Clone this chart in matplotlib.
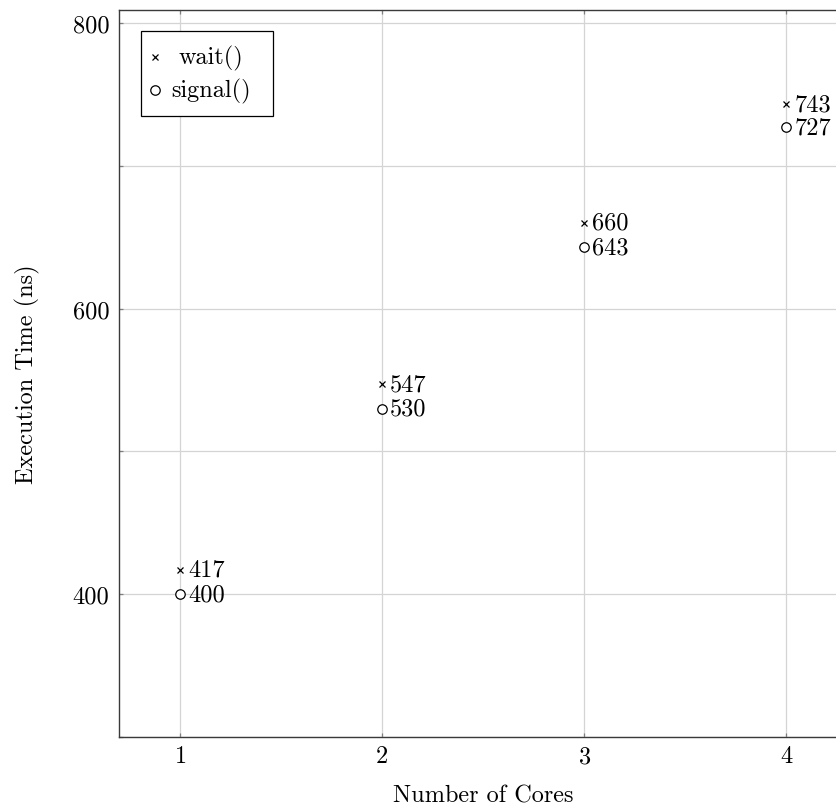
import matplotlib
matplotlib.use("Agg")
import matplotlib.pyplot as plt
from matplotlib.patches import Rectangle
from matplotlib.lines import Line2D
from matplotlib.ticker import MultipleLocator, FuncFormatter

plt.rcParams["font.family"] = "serif"
plt.rcParams["font.serif"] = ["cmr10"]
plt.rcParams["mathtext.fontset"] = "cm"
plt.rcParams["axes.formatter.use_mathtext"] = True

cores = [1, 2, 3, 4]
wait_ns = [417, 547, 660, 743]
signal_ns = [400, 530, 643, 727]
series_names = ["wait()", "signal()"]

FS = 17.5

fig = plt.figure(figsize=(8.36, 8.12), dpi=100)
# axes run a little past the right edge of the canvas
ax = fig.add_axes([0.14234, 0.09113, 0.8708, 0.8953])

ax.plot(cores, wait_ns, linestyle="none", marker="x", markersize=5,
        markeredgewidth=0.9, color="black", zorder=3)
ax.plot(cores, signal_ns, linestyle="none", marker="o", markersize=6.8,
        markerfacecolor="white", markeredgewidth=0.9, color="black", zorder=3)

for x, y in zip(cores, wait_ns):
    ax.annotate(str(y), (x, y), xytext=(6, 0), textcoords="offset points",
                ha="left", va="center", fontsize=FS)
for x, y in zip(cores, signal_ns):
    ax.annotate(str(y), (x, y), xytext=(6, 0), textcoords="offset points",
                ha="left", va="center", fontsize=FS)

ax.set_xlim(0.7, 4.3)
ax.set_ylim(300, 809)
ax.set_xticks(cores)
ax.yaxis.set_major_locator(MultipleLocator(100))
ax.yaxis.set_major_formatter(FuncFormatter(lambda v, p: f"{v:.0f}" if v % 200 == 0 else ""))

ax.grid(True, color="#d4d4d4", linewidth=0.9)
ax.set_axisbelow(True)
ax.tick_params(direction="in", length=3, width=0.9, color="#808080",
               labelsize=FS, top=True, right=True)
ax.tick_params(axis="x", pad=6)
ax.tick_params(axis="y", pad=7)
for s in ax.spines.values():
    s.set_color("#3a3a3a")
    s.set_linewidth(1.0)

ax.set_xlabel("Number of Cores", fontsize=FS)
ax.xaxis.set_label_coords(0.5, -0.0798)
ax.xaxis.label.set_va("center")
ax.set_ylabel("Execution Time (ns)", fontsize=FS)
ax.yaxis.set_label_coords(-0.1264, 0.5)
ax.yaxis.label.set_va("center")

# legend box with centred entry text
box = Rectangle((0.0302, 0.8542), 0.1813, 0.1169, transform=ax.transAxes,
                facecolor="white", edgecolor="black", linewidth=0.9, zorder=4)
ax.add_patch(box)
ax.add_line(Line2D([0.0495], [0.9353], transform=ax.transAxes, marker="x",
                   markersize=5, markeredgewidth=0.9, color="black",
                   linestyle="none", zorder=5))
ax.add_line(Line2D([0.0495], [0.8900], transform=ax.transAxes, marker="o",
                   markersize=6.8, markerfacecolor="white", markeredgewidth=0.9,
                   color="black", linestyle="none", zorder=5))
ax.text(0.1264, 0.9353, series_names[0], transform=ax.transAxes, ha="center",
        va="center", fontsize=FS, zorder=5)
ax.text(0.1264, 0.8900, series_names[1], transform=ax.transAxes, ha="center",
        va="center", fontsize=FS, zorder=5)

fig.savefig("out.png", dpi=100)
